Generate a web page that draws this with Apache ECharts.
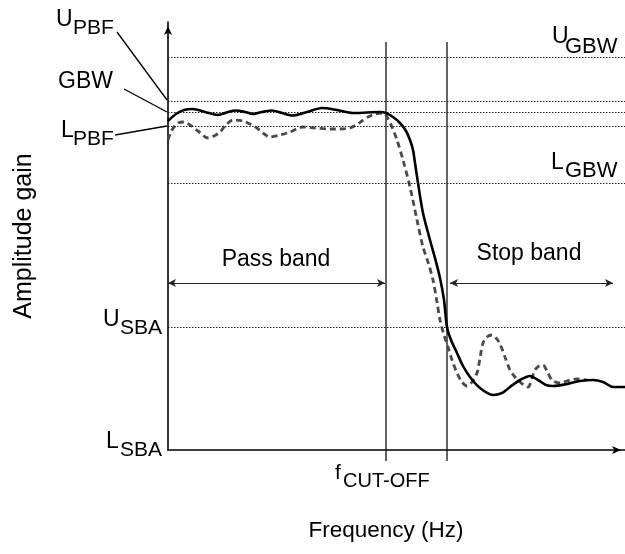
<!DOCTYPE html>
<html>
<head>
<meta charset="utf-8">
<script src="https://cdn.jsdelivr.net/npm/echarts@6/dist/echarts.min.js"></script>
<style>
  html, body { margin: 0; padding: 0; background: #fff; }
  #chart-container { width: 625px; height: 554px; }
</style>
</head>
<body>
<div id="chart-container"></div>
<script>
// frequency axis runs 0..457, amplitude axis 0..428 (arbitrary units)
var freqMax = 457;
var gainMax = 428;

// measured filter response (solid)
var idealResponse = [
  [0,329],[8,336],[16,340],[25,341],[37,338],[50,335],[60,338],[68,339.5],[77,338],[85,336],
  [94,338],[104,339.5],[114,337],[125,334.5],[139,338],[154,342],[169,340],[185,337],[199,337.5],
  [212,338],[218,337],[225,333],[232,327],[238,319],[242,310],[245,300],[247,287],[250,267],
  [255,237],[262,210],[267,192],[272,172],[276,150],[279,123],[283,110],[289,97],[295,84],
  [302,73],[312,62],[325,55],[334,57],[342,63],[352,70],[362,74],[370,70],[378,65],[385,64],
  [399,66],[412,69],[425,70],[435,68],[445,63],[451,63],[457,63]
];

// second response (dashed)
var realResponse = [
  [0,310],[4,320],[10,327],[16,328],[22,325],[30,319],[40,312],[46,314],[52,318],[58,325],
  [65,330],[75,329],[82,326],[89,322],[95,317],[102,313],[112,315],[122,318],[135,323],[147,322],
  [162,321],[172,321],[182,322],[188,325],[194,329],[200,333],[207,336],[215,337],[219,333],
  [224,323],[229,310],[235,290],[242,263],[249,230],[255,203],[260,188],[265,170],[269,148],
  [272,130],[276,115],[280,103],[284,90],[289,77],[294,68],[299,64],[304,68],[309,77],[312,92],
  [315,107],[319,113],[324,115],[328,112],[332,106],[337,93],[342,80],[347,73],[352,68],[360,63],
  [364,72],[367,80],[371,84],[375,85],[379,79],[384,70],[392,67],[402,70],[409,71],[419,70]
];

// tolerance levels (dotted lines)
var levelNames = ['U_GBW', 'U_PBF', 'GBW', 'L_PBF', 'L_GBW', 'U_SBA'];
var levelValues = [393, 349, 338, 324, 267, 123];

// band edges
var cutOff = 218;
var stopEdge = 279;
var edgeTop = 408;
var edgeBottom = -11;
var bandArrowLevel = 167;
var passBand = [0, 217];
var stopBand = [282, 445];

// leader lines from the left labels to the axis
var leaders = [
  [[-51, 418], [-1, 350]],
  [[-44, 361], [-1, 338]],
  [[-53, 315], [-1, 324]]
];

var FONT = '"Liberation Sans", Arial, Helvetica, sans-serif';

var chartDom = document.getElementById('chart-container');
var myChart = echarts.init(chartDom);

function txt(text, x, y, size, align) {
  return {
    type: 'text', x: x, y: y, silent: true,
    style: {
      text: text, fill: '#000', fontSize: size, fontFamily: FONT,
      align: align || 'left', verticalAlign: 'middle'
    }
  };
}

var lineSeries = [
  {
    name: 'ideal', type: 'line', data: idealResponse, smooth: 0.3,
    showSymbol: false, clip: false, z: 5,
    lineStyle: { color: '#000', width: 2.6 }
  },
  {
    name: 'real', type: 'line', data: realResponse, smooth: 0.3,
    showSymbol: false, clip: false, z: 4,
    lineStyle: { color: '#4a4a4a', width: 2.8, type: [6, 4] }
  },
  {
    name: 'levels', type: 'line', data: [], clip: false,
    markLine: {
      silent: true, symbol: 'none', label: { show: false },
      lineStyle: { color: '#222', width: 1, type: [1.5, 1.5] },
      data: levelValues.map(function (v) { return { yAxis: v }; })
    }
  },
  {
    name: 'bands', type: 'line', data: [], clip: false,
    markLine: {
      silent: true, symbol: ['arrow', 'arrow'], symbolSize: [6, 8],
      label: { show: false },
      lineStyle: { color: '#222', width: 1.2, type: 'solid' },
      data: [
        [{ coord: [passBand[0], bandArrowLevel] }, { coord: [passBand[1], bandArrowLevel] }],
        [{ coord: [stopBand[0], bandArrowLevel] }, { coord: [stopBand[1], bandArrowLevel] }]
      ]
    }
  }
];

[cutOff, stopEdge].forEach(function (x) {
  lineSeries.push({
    type: 'line', data: [[x, edgeTop], [x, edgeBottom]], clip: false,
    showSymbol: false, silent: true, z: 3,
    lineStyle: { color: '#111', width: 1.3 }
  });
});

var labels = [
  txt('U', 56, 19.5, 23), txt('PBF', 73, 28.5, 21),
  txt('GBW', 58, 81.5, 23),
  txt('L', 61, 130.5, 23), txt('PBF', 73, 139.5, 21),
  txt('U', 552, 37, 23), txt('GBW', 565, 46.5, 22),
  txt('L', 551, 162.5, 23), txt('GBW', 565, 170.5, 22),
  txt('U', 103, 319.5, 23), txt('SBA', 120, 328.5, 21),
  txt('L', 106, 441.5, 23), txt('SBA', 120, 450, 21),
  txt('f', 335, 473, 21), txt('CUT-OFF', 343, 481, 20),
  txt('Pass band', 276, 259.5, 23, 'center'),
  txt('Stop band', 529, 254, 23, 'center'),
  txt('Frequency (Hz)', 386, 531, 22.5, 'center')
];

option = {
  backgroundColor: '#fff',
  animation: false,
  grid: { left: 168, right: 0, top: 22, bottom: 104 },
  xAxis: {
    type: 'value', min: 0, max: freqMax,
    axisLine: {
      lineStyle: { color: '#000', width: 1.6 },
      symbol: ['none', 'arrow'], symbolSize: [6, 9], symbolOffset: [0, -4]
    },
    axisTick: { show: false }, axisLabel: { show: false }, splitLine: { show: false }
  },
  yAxis: {
    type: 'value', min: 0, max: gainMax,
    name: 'Amplitude gain', nameLocation: 'middle', nameGap: 131,
    nameTextStyle: { color: '#000', fontSize: 25, fontFamily: FONT },
    axisLine: {
      lineStyle: { color: '#000', width: 1.6 },
      symbol: ['none', 'arrow'], symbolSize: [6, 9], symbolOffset: [0, -4]
    },
    axisTick: { show: false }, axisLabel: { show: false }, splitLine: { show: false }
  },
  series: lineSeries,
  graphic: labels
};

option && myChart.setOption(option);

// leader lines: data coords -> pixels
var leaderShapes = leaders.map(function (seg) {
  var a = myChart.convertToPixel({ gridIndex: 0 }, seg[0]);
  var b = myChart.convertToPixel({ gridIndex: 0 }, seg[1]);
  return {
    type: 'line', silent: true,
    shape: { x1: a[0], y1: a[1], x2: b[0], y2: b[1] },
    style: { stroke: '#000', lineWidth: 1.3 }
  };
});
myChart.setOption({ graphic: labels.concat(leaderShapes) });
</script>
</body>
</html>
